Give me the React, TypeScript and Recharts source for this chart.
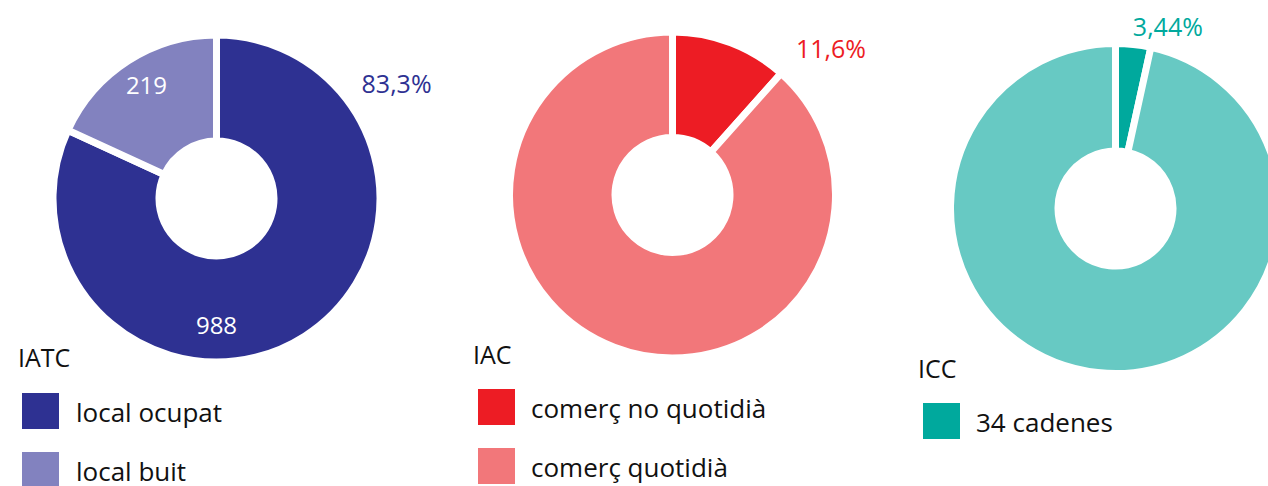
import { PieChart, Pie, Cell } from "recharts";

// IATC
const iatcNames = ["local ocupat", "local buit"];
const iatcValues = [988, 219];
const iatcInnerLabels = ["988", "219"];
const iatcPercent = "83,3%";

// IAC
const iacNames = ["comerç no quotidià", "comerç quotidià"];
const iacValues = [11.6, 88.4];
const iacPercent = "11,6%";

// ICC
const iccNames = ["34 cadenes", "resta"];
const iccValues = [3.44, 96.56];
const iccPercent = "3,44%";

const FONT = "'Open Sans', sans-serif";
const RADIAN = Math.PI / 180;
const GAP = 7;

const polar = (cx: number, cy: number, r: number, angle: number) => ({
  x: cx + r * Math.cos(angle * RADIAN),
  y: cy - r * Math.sin(angle * RADIAN),
});

const toRows = (names: string[], values: number[]) =>
  names.map((name, i) => ({ name, value: values[i] }));

const charts = [
  {
    title: "IATC",
    rows: toRows(iatcNames, iatcValues),
    colors: ["#2e3192", "#8282bf"],
    legendCount: 2,
    cx: 216.5,
    cy: 198.5,
    r: 160,
    inner: 61,
    // polar positions of the text labels (angle, radius)
    inside: [
      { text: iatcInnerLabels[0], angle: -90, radius: 126 },
      { text: iatcInnerLabels[1], angle: 121.5, radius: 134 },
    ],
    outside: { text: iatcPercent, angle: 32.7, radius: 214, color: "#2e3192" },
    legend: { titleX: 18, titleY: 367, x: 22, y: 393, textX: 76 },
  },
  {
    title: "IAC",
    rows: toRows(iacNames, iacValues),
    colors: ["#ed1c24", "#f2777a"],
    legendCount: 2,
    cx: 672.5,
    cy: 195,
    r: 159.5,
    inner: 61,
    inside: [],
    outside: { text: iacPercent, angle: 42.8, radius: 216, color: "#ed1c24" },
    legend: { titleX: 473, titleY: 364, x: 478, y: 389, textX: 531 },
  },
  {
    title: "ICC",
    rows: toRows(iccNames, iccValues),
    colors: ["#00a99d", "#67c9c3"],
    legendCount: 1,
    cx: 1115.5,
    cy: 208.5,
    r: 161.5,
    inner: 61,
    inside: [],
    outside: { text: iccPercent, angle: 74, radius: 190, color: "#00a99d" },
    legend: { titleX: 918, titleY: 378, x: 923, y: 403, textX: 976 },
  },
];

const makeLabel = (chart: (typeof charts)[number]) => (props: any) => {
  const { cx, cy, index } = props;
  if (index !== 0) return null;
  const { outside } = chart;
  const o = polar(cx, cy, outside.radius, outside.angle);
  return (
    <g>
      {chart.inside.map((l, i) => {
        const p = polar(cx, cy, l.radius, l.angle);
        return (
          <text
            key={i}
            x={p.x}
            y={p.y}
            fill="#ffffff"
            textAnchor="middle"
            dominantBaseline="central"
            fontSize={24}
            fontFamily={FONT}
          >
            {l.text}
          </text>
        );
      })}
      <text
        x={o.x}
        y={o.y}
        fill={outside.color}
        textAnchor="middle"
        dominantBaseline="central"
        fontSize={25}
        fontFamily={FONT}
      >
        {outside.text}
      </text>
    </g>
  );
};

export default function App() {
  return (
    <div
      style={{
        position: "absolute",
        left: 0,
        top: 0,
        width: 1268,
        height: 486,
        overflow: "hidden",
        background: "#ffffff",
        fontFamily: FONT,
      }}
    >
      <PieChart width={1268} height={486} margin={{ top: 0, right: 0, bottom: 0, left: 0 }}>
        {charts.map((c) => (
          <Pie
            key={c.title}
            data={c.rows}
            dataKey="value"
            nameKey="name"
            cx={c.cx}
            cy={c.cy}
            outerRadius={c.r + GAP / 2}
            innerRadius={c.inner - GAP / 2}
            startAngle={90}
            endAngle={-270}
            stroke="#ffffff"
            strokeWidth={GAP}
            labelLine={false}
            label={makeLabel(c)}
            isAnimationActive={false}
          >
            {c.rows.map((row, i) => (
              <Cell key={row.name} fill={c.colors[i]} />
            ))}
          </Pie>
        ))}
      </PieChart>

      {/* legends */}
      <svg
        width={1268}
        height={486}
        style={{ position: "absolute", left: 0, top: 0, pointerEvents: "none" }}
      >
        {charts.map((c) => (
          <g key={c.title} fontFamily={FONT} fill="#111111">
            <text x={c.legend.titleX} y={c.legend.titleY} fontSize={25}>
              {c.title}
            </text>
            {c.rows.slice(0, c.legendCount).map((row, i) => {
              const y = c.legend.y + i * 59;
              return (
                <g key={row.name}>
                  <rect x={c.legend.x} y={y} width={37} height={36} fill={c.colors[i]} />
                  <text x={c.legend.textX} y={y + 29} fontSize={26} fill="#111111">
                    {row.name}
                  </text>
                </g>
              );
            })}
          </g>
        ))}
      </svg>
    </div>
  );
}
